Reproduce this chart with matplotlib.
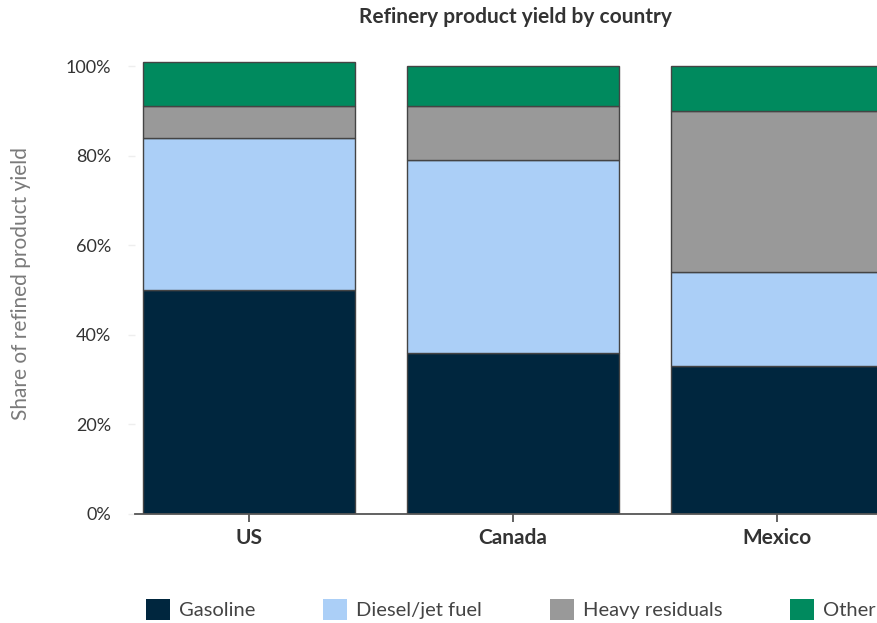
import numpy as np
import matplotlib
matplotlib.use("Agg")
from matplotlib import pyplot as plt
from matplotlib.patches import Patch

plt.rcParams['font.family'] = ['Lato', 'DejaVu Sans']

# product shares (%) per country
countries = ["US", "Canada", "Mexico"]
gasoline = [50, 36, 33]
diesel = [34, 43, 21]
heavy = [7, 12, 36]
other = [10, 9, 10]

series = [("Gasoline", gasoline, "#00263e"),
          ("Diesel/jet fuel", diesel, "#abcff7"),
          ("Heavy residuals", heavy, "#999999"),
          ("Other", other, "#008a5e")]

fig = plt.figure(figsize=(8.78, 6.23), dpi=100)
ax = fig.add_axes([0.1538, 0.175, 0.8462, 0.7406])

x = np.arange(len(countries))
bottom = np.zeros(len(countries))
for name, vals, col in series:
    ax.bar(x, vals, 0.8, bottom=bottom, color=col, edgecolor="#444444",
           linewidth=1.0, label=name)
    bottom += np.array(vals)

ax.set_xlim(-0.432, 2.383)
ax.set_ylim(0, 103)
ax.set_yticks([0, 20, 40, 60, 80, 100])
ax.set_yticklabels([f"{v}%" for v in [0, 20, 40, 60, 80, 100]])
ax.set_xticks(x)
ax.set_xticklabels(countries, fontweight="bold")

for s in ["top", "right", "left"]:
    ax.spines[s].set_visible(False)
ax.spines["bottom"].set_color("#555555")
ax.spines["bottom"].set_linewidth(1.3)
ax.tick_params(axis="x", length=6, width=1.3, color="#555555",
               labelsize=15, labelcolor="#333333", pad=4)
ax.tick_params(axis="y", length=5, width=1, color="#eeeeee",
               labelsize=13, labelcolor="#333333", pad=12)

ax.set_ylabel("Share of refined product yield", fontsize=15,
              color="#7a7a7a", fontweight="normal")
ax.yaxis.set_label_coords(-0.140, 0.5)

fig.text(0.5865, 0.972, "Refinery product yield by country", ha="center",
         va="center", fontsize=15, fontweight="bold", color="#333333")

handles = [Patch(facecolor=c, edgecolor="none", label=n) for n, _, c in series]
fig.legend(handles=handles, loc="center", bbox_to_anchor=(0.582, 0.022),
           ncol=4, frameon=False, fontsize=14.5, handlelength=1.2,
           handleheight=1.2, handletextpad=0.45, columnspacing=3.35,
           labelcolor="#444444", borderaxespad=0, borderpad=0)

fig.savefig("out.png", dpi=100)
